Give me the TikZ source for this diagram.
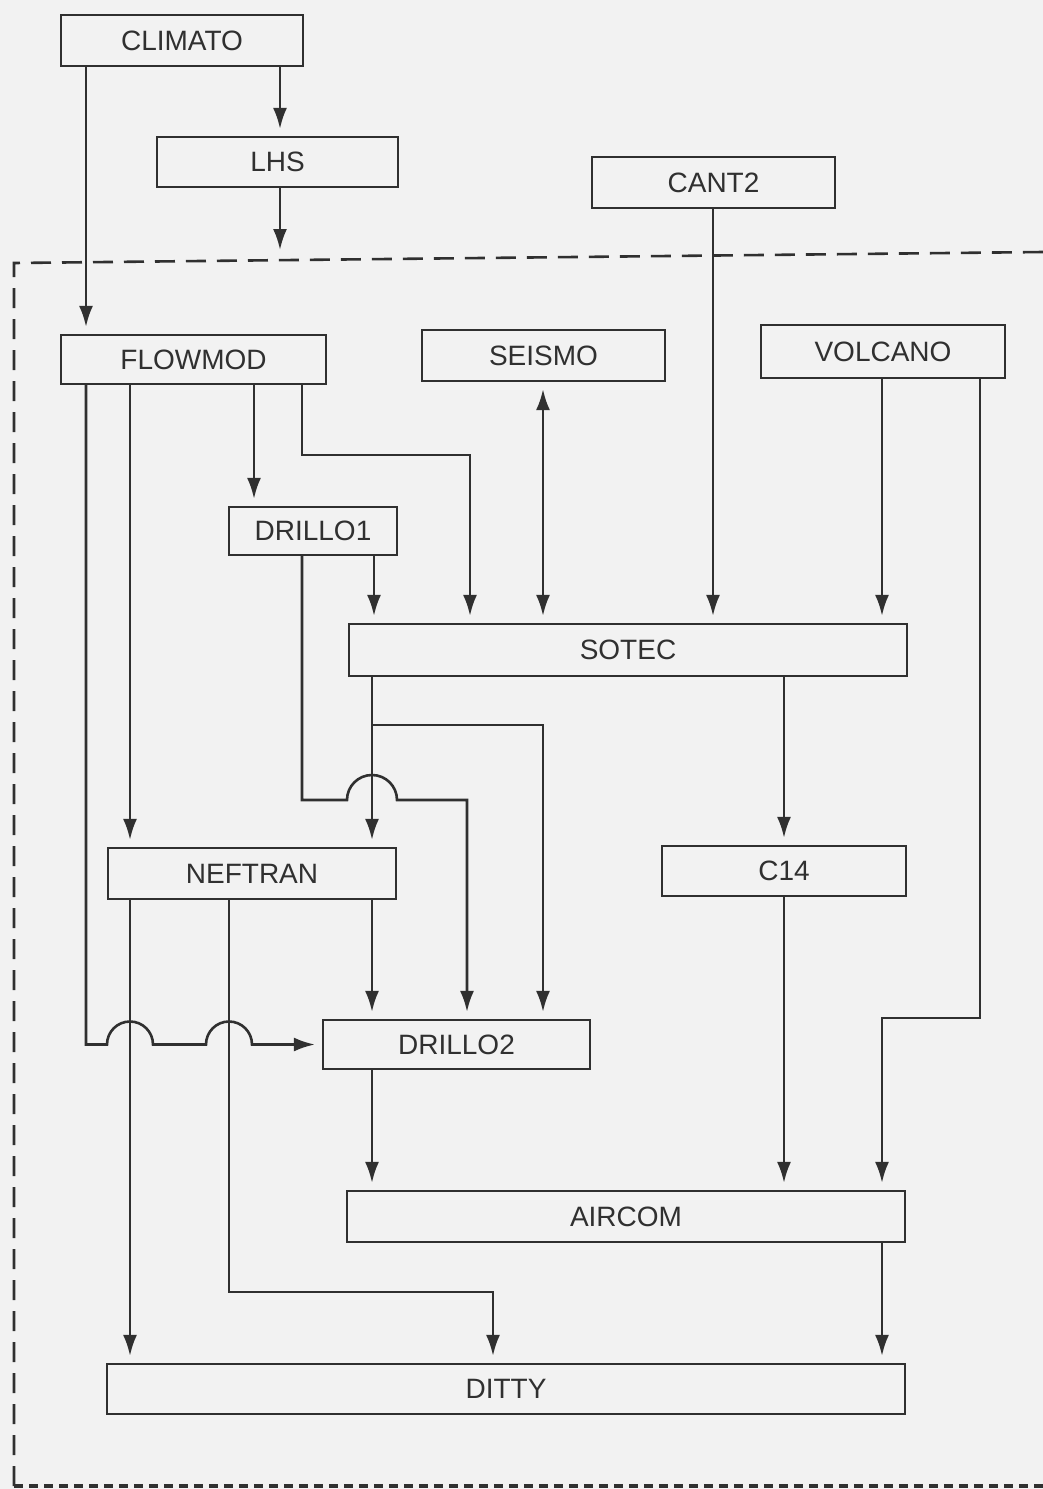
\documentclass[tikz,border=0pt]{standalone}
\usepackage{fontspec}
\setmainfont{Liberation Sans}
\usetikzlibrary{arrows.meta,calc}
\definecolor{ink}{HTML}{303030}
\definecolor{paper}{HTML}{F2F2F2}
\begin{document}
\begin{tikzpicture}[x=1pt,y=-1pt,
  box/.style={draw=ink,line width=2.2pt,inner sep=0pt,text=ink,
    font=\fontsize{28}{30}\selectfont},
  conn/.style={draw=ink,line width=2.6pt},
  tip/.tip={Latex[length=21pt,width=14pt]},
  arr/.style={conn,-tip,shorten >=7pt},
  dbl/.style={conn,tip-tip,shorten >=7pt,shorten <=7pt},
  border/.style={draw=ink,line width=2.6pt,dash pattern=on 20pt off 11pt},
  borderb/.style={draw=ink,line width=3.4pt,dash pattern=on 9pt off 6pt}]
\fill[paper] (0,0) rectangle (1043,1489);
\useasboundingbox (0,0) rectangle (1043,1489);
% dashed frame
\draw[border] (14,1486) -- (14,263) -- (1043,252);
\draw[borderb] (14,1486) -- (1043,1486);
% boxes
\node[box,minimum width=242pt,minimum height=51pt] (climato) at (182,40.5) {CLIMATO};
\node[box,minimum width=241pt,minimum height=50pt] (lhs) at (277.5,162) {LHS};
\node[box,minimum width=243pt,minimum height=51pt] (cant) at (713.5,182.5) {CANT2};
\node[box,minimum width=265pt,minimum height=49pt] (flow) at (193.5,359.5) {FLOWMOD};
\node[box,minimum width=243pt,minimum height=51pt] (seismo) at (543.5,355.5) {SEISMO};
\node[box,minimum width=244pt,minimum height=53pt] (volcano) at (883,351.5) {VOLCANO};
\node[box,minimum width=168pt,minimum height=48pt] (drilloa) at (313,531) {DRILLO1};
\node[box,minimum width=558pt,minimum height=52pt] (sotec) at (628,650) {SOTEC};
\node[box,minimum width=288pt,minimum height=51pt] (neftran) at (252,873.5) {NEFTRAN};
\node[box,minimum width=244pt,minimum height=50pt] (cfourteen) at (784,871) {C14};
\node[box,minimum width=267pt,minimum height=49pt] (drillob) at (456.5,1044.5) {DRILLO2};
\node[box,minimum width=558pt,minimum height=51pt] (aircom) at (626,1216.5) {AIRCOM};
\node[box,minimum width=798pt,minimum height=50pt] (ditty) at (506,1389) {DITTY};
% column / row helpers
\coordinate (c86) at (86,0);
\coordinate (c130) at (130,0);
\coordinate (c229) at (229,0);
\coordinate (c254) at (254,0);
\coordinate (c280) at (280,0);
\coordinate (c302) at (302,0);
\coordinate (c372) at (372,0);
\coordinate (c374) at (374,0);
\coordinate (c467) at (467,0);
\coordinate (c470) at (470,0);
\coordinate (c493) at (493,0);
\coordinate (c543) at (543,0);
\coordinate (c713) at (713,0);
\coordinate (c784) at (784,0);
\coordinate (c882) at (882,0);
\coordinate (c980) at (980,0);
\coordinate (r455) at (0,455);
\coordinate (r800) at (0,800);
\coordinate (r1018) at (0,1018);
\coordinate (r1292) at (0,1292);
\coordinate (lhsend) at (280,250);
\coordinate (branch) at (372,725);
% connectors
\draw[arr] (climato.south -| c280) -- (lhs.north -| c280);
\draw[arr,shorten >=0pt] (lhs.south -| c280) -- (lhsend);
\draw[arr] (climato.south -| c86) -- (flow.north -| c86);
\draw[arr] (cant.south -| c713) -- (sotec.north -| c713);
\draw[arr] (flow.south -| c130) -- (neftran.north -| c130);
\draw[arr] (flow.south -| c254) -- (drilloa.north -| c254);
\draw[arr] (flow.south -| c302) -- (c302 |- r455) -| (sotec.north -| c470);
\draw[arr] (flow.south -| c86) |- ($(c130 |- drillob.west)+(-23,0)$)
  arc[start angle=180,end angle=0,radius=23pt]
  -- ($(c229 |- drillob.west)+(-23,0)$)
  arc[start angle=180,end angle=0,radius=23pt]
  -- (drillob.west);
\draw[dbl] (seismo.south -| c543) -- (sotec.north -| c543);
\draw[arr] (drilloa.south -| c374) -- (sotec.north -| c374);
\draw[arr] (drilloa.south -| c302) |- ($(c372 |- r800)+(-25,0)$)
  arc[start angle=180,end angle=0,radius=25pt]
  -| (drillob.north -| c467);
\draw[arr] (volcano.south -| c882) -- (sotec.north -| c882);
\draw[arr] (volcano.south -| c980) -- (c980 |- r1018) -- (c882 |- r1018) -- (aircom.north -| c882);
\draw[arr] (sotec.south -| c372) -- (neftran.north -| c372);
\draw[arr] (branch) -| (drillob.north -| c543);
\draw[arr] (sotec.south -| c784) -- (cfourteen.north -| c784);
\draw[arr] (neftran.south -| c372) -- (drillob.north -| c372);
\draw[arr] (neftran.south -| c130) -- (ditty.north -| c130);
\draw[arr] (neftran.south -| c229) -- (c229 |- r1292) -| (ditty.north -| c493);
\draw[arr] (cfourteen.south -| c784) -- (aircom.north -| c784);
\draw[arr] (drillob.south -| c372) -- (aircom.north -| c372);
\draw[arr] (aircom.south -| c882) -- (ditty.north -| c882);
\end{tikzpicture}
\end{document}
